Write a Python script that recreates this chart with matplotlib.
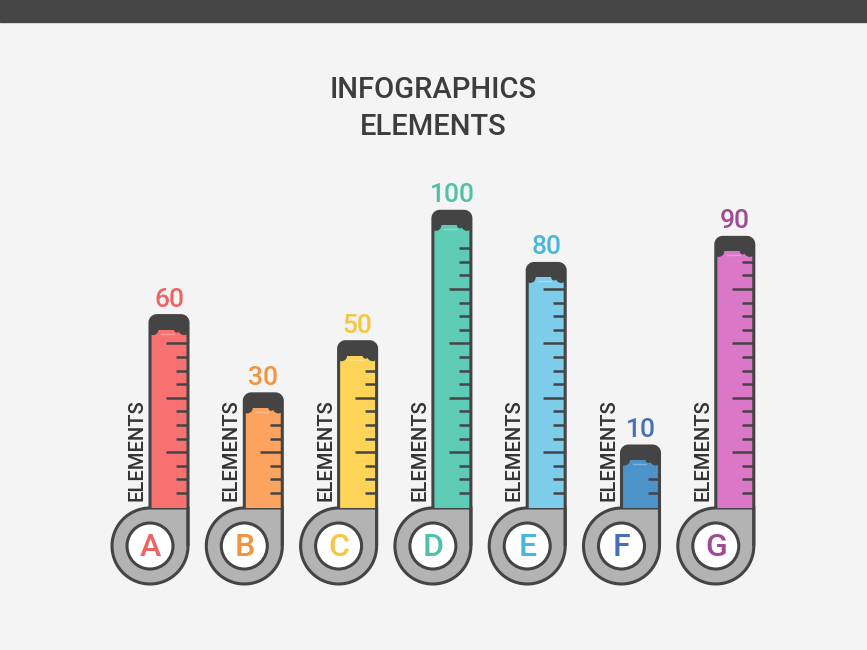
import numpy as np
import matplotlib
matplotlib.use("Agg")
import matplotlib.pyplot as plt
from matplotlib.path import Path
from matplotlib.patches import PathPatch, Rectangle, Circle
from matplotlib.transforms import Affine2D

plt.rcParams['font.family'] = ['Roboto', 'DejaVu Sans']

# data
letters = ['A', 'B', 'C', 'D', 'E', 'F', 'G']
values = [60, 30, 50, 100, 80, 10, 90]
fill_colors = ['#f87171', '#fba35f', '#fdd458', '#5ecbb5', '#7dcdea', '#4c93c9', '#da77c6']
text_colors = ['#ee6464', '#f29340', '#f6c640', '#4fc0aa', '#4ab6dc', '#4670b6', '#9e4b93']
title_lines = ['INFOGRAPHICS', 'ELEMENTS']
side_label = 'ELEMENTS'

dark = '#444444'
gray = '#b3b3b3'
bg = '#f4f4f4'

fig = plt.figure(figsize=(8.67, 6.5), dpi=100)
fig.patch.set_facecolor(bg)
ax = fig.add_axes([0, 0, 1, 1])
ax.set_xlim(0, 867)
ax.set_ylim(650, 0)
ax.axis('off')

# value -> pixel (y) transform for the tube levels
val_tr = Affine2D().scale(1, -2.608).translate(0, 472.1) + ax.transData

ax.add_patch(Rectangle((0, 0), 867, 22, color='#454545', zorder=1))

ax.text(433, 90, title_lines[0], ha='center', va='center', fontsize=21,
        fontweight='medium', color='#3d3d3d')
ax.text(433, 127, title_lines[1], ha='center', va='center', fontsize=21,
        fontweight='medium', color='#3d3d3d')

R = 38
cy = 546
x0 = 150
step = 94.3
r_in = 23

for i, (lab, v) in enumerate(zip(letters, values)):
    cx = x0 + i * step
    col = fill_colors[i]
    tcol = text_colors[i]

    # top of tube from the value via the transform
    top = ax.transData.inverted().transform(val_tr.transform((0, v)))[1]
    bottom = cy - R
    W = R
    rc = 7

    # loop piece
    t = np.linspace(0, 1.5 * np.pi, 80)
    pts = [(cx + R * np.cos(a), cy + R * np.sin(a)) for a in t]
    pts += [(cx + R, cy - R), (cx + R, cy)]
    loop = PathPatch(Path(pts, closed=False), facecolor=gray, edgecolor=dark,
                     lw=2.2, zorder=2)
    ax.add_patch(loop)
    ax.add_patch(Circle((cx, cy), r_in, facecolor='white', edgecolor=dark,
                        lw=2.2, zorder=3))
    ax.text(cx, cy + 1, lab, ha='center', va='center', fontsize=23,
            fontweight='medium', color=tcol, zorder=4)

    # tube body
    a1 = np.linspace(np.pi, 1.5 * np.pi, 12)
    a2 = np.linspace(1.5 * np.pi, 2 * np.pi, 12)
    tube_pts = [(cx, bottom)]
    tube_pts += [(cx + rc + rc * np.cos(a), top + rc + rc * np.sin(a)) for a in a1]
    tube_pts += [(cx + W - rc + rc * np.cos(a), top + rc + rc * np.sin(a)) for a in a2]
    tube_pts += [(cx + W, bottom)]
    body = PathPatch(Path(tube_pts + [(cx, bottom)], closed=True),
                     facecolor=col, edgecolor='none', zorder=3)
    ax.add_patch(body)

    # dark cap with drips
    cap = Rectangle((cx, top), W, 14, facecolor=dark, edgecolor='none', zorder=4)
    ax.add_patch(cap)
    cap.set_clip_path(body)
    for dx, rr in ((3, 5.5), (W - 4, 5.5), (W - 11, 3.0)):
        d = Circle((cx + dx, top + 14), rr, facecolor=dark, edgecolor='none', zorder=4)
        ax.add_patch(d)
        d.set_clip_path(body)
    ax.plot([cx + 11, cx + W - 14], [top + 18, top + 18], color='white',
            lw=1, alpha=0.3, zorder=4)

    # ruler ticks
    k = 0
    y = bottom - 15
    while y > top + 24:
        ln = 22 if k % 4 == 3 else 12
        ax.plot([cx + W - ln, cx + W], [y, y], color=dark, lw=1.8,
                solid_capstyle='butt', zorder=5)
        y -= 13.6
        k += 1

    outline = PathPatch(Path(tube_pts + [(cx + W, cy)], closed=False),
                        facecolor='none', edgecolor=dark, lw=2.2, zorder=6)
    ax.add_patch(outline)

    ax.text(cx + W / 2, top - 16, str(v), ha='center', va='center', fontsize=19,
            fontweight='medium', color=tcol, zorder=6)
    ax.text(cx - 13, 501, side_label, rotation=90, ha='center', va='bottom',
            fontsize=14.5, fontweight='medium', color='#333333', zorder=6)

fig.savefig('out.png', dpi=100, facecolor=bg)
